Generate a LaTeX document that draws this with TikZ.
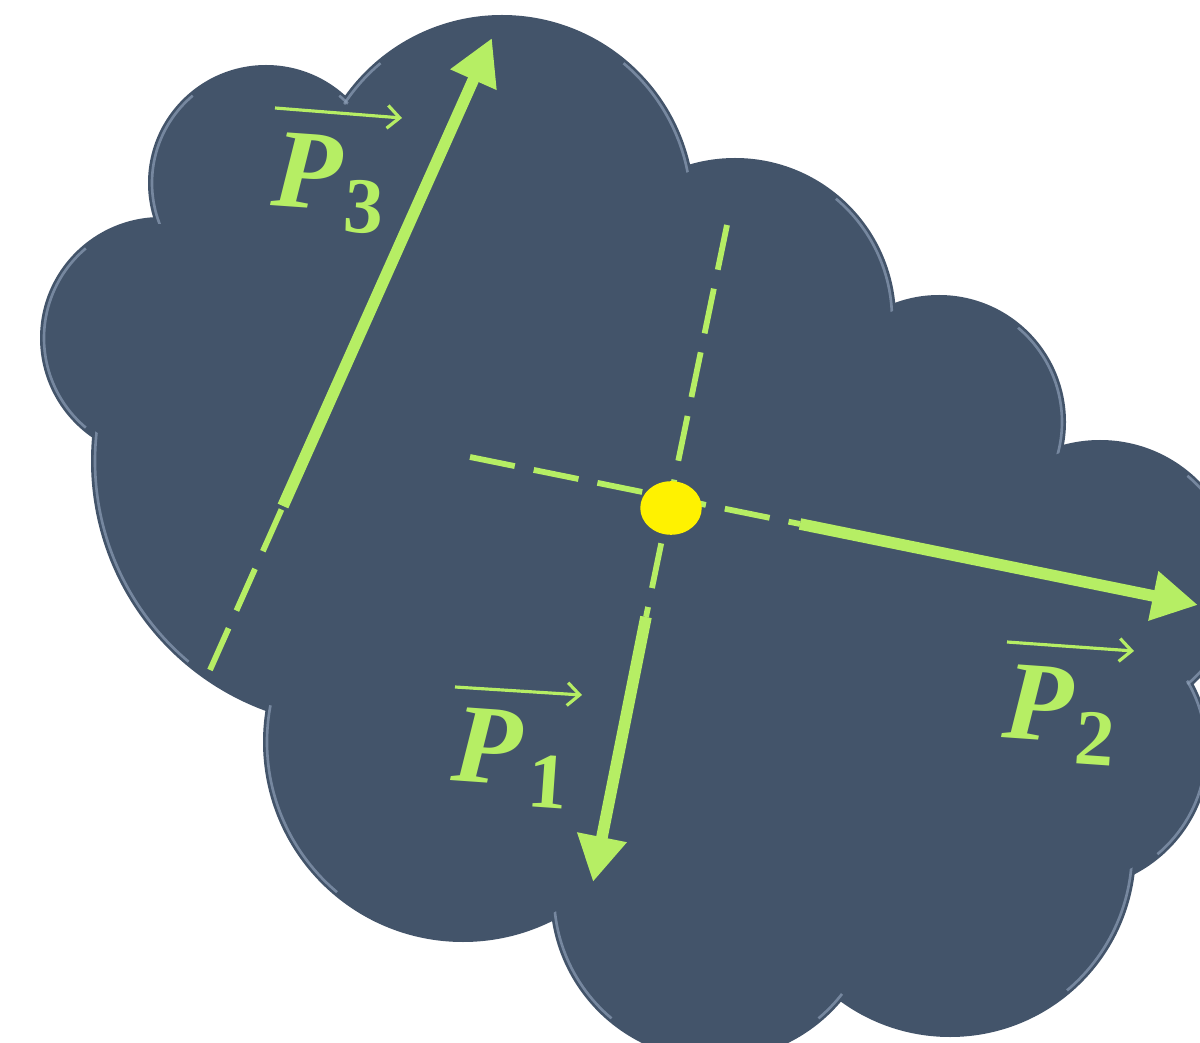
\documentclass[tikz,border=0pt]{standalone}
\usepackage{fontspec}
\setmainfont{Liberation Serif}
\usepackage{tikz}
\usetikzlibrary{arrows.meta,shapes.geometric}

\definecolor{slate}{RGB}{67,84,106}
\definecolor{slaterim}{RGB}{140,158,182}
\definecolor{lime}{RGB}{182,238,100}

\newcommand\subdigit[1]{\raisebox{-12pt}{\fontsize{45}{48}\selectfont\upshape #1}}
\def\bumplist{266/183/118, 161/338/121, 357/461/266, 502/208/193, 735/319/161,
  939/422/127, 1100/580/140, 1070/750/140, 950/851/186, 715/895/165, 463/742/200}

\begin{document}
\begin{tikzpicture}[
  x=0.02cm, y=-0.02cm,
  cloud/.style={fill=slate},
  rim/.style={draw=slaterim, line width=1.5pt, opacity=0.7},
  dashline/.style={lime, line width=3.3pt, dash pattern=on 26pt off 11pt},
  vecline/.style={lime, line width=6.6pt, -{Triangle[length=26pt,width=27pt]}},
  overarr/.style={lime, line width=1.8pt, -{Straight Barb[length=7pt,width=13pt]}},
  lbl/.style={text=lime, font=\fontsize{64}{70}\selectfont\bfseries\itshape,
    inner sep=0pt, anchor=base west, rotate=-4},
  dot/.style={ellipse, fill=yellow, inner sep=0pt, minimum width=35pt, minimum height=30.5pt}
]
\useasboundingbox (0,0) rectangle (1200,1043);
\fill[white] (0,0) rectangle (1200,1043);
\clip (0,0) rectangle (1200,1043);

\foreach \cx/\cy/\r in \bumplist {\fill[cloud] (\cx,\cy) circle[radius=\r];}
\foreach \cx/\cy/\r in \bumplist {
  \draw[rim] (\cx,\cy) ++(-50:\r-4) arc[start angle=-50, end angle=50, radius=\r-4];
  \draw[rim] (\cx,\cy) ++(130:\r-4) arc[start angle=130, end angle=230, radius=\r-4];
}
\foreach \cx/\cy/\r in \bumplist {\fill[cloud] (\cx,\cy) circle[radius=\r-7];}
\fill[cloud] (266,183) -- (502,208) -- (735,319) -- (939,422) -- (1100,580) -- (1070,750)
  -- (950,851) -- (715,895) -- (463,742) -- (357,461) -- (161,338) -- cycle;

\coordinate (p1s) at (727,225);
\coordinate (p1m) at (646,617);
\coordinate (p1e) at (593,882);
\coordinate (p2s) at (470,457);
\coordinate (p2m) at (800,524);
\coordinate (p2e) at (1198,605);
\coordinate (p3s) at (210,670);
\coordinate (p3m) at (283,506);
\coordinate (p3e) at (492,38);

\draw[dashline] (p1s) -- (p1m);
\draw[dashline] (p2s) -- (p2m);
\draw[dashline] (p3s) -- (p3m);
\node[dot] (o) at (671,508) {};
\draw[vecline] (p1m) -- (p1e);
\draw[vecline] (p2m) -- (p2e);
\draw[vecline] (p3m) -- (p3e);

\node[lbl] (p1) at (450,780) {P\hspace{5pt}\subdigit{1}};
\node[lbl] (p2) at (1001,737) {P\hspace{3pt}\subdigit{2}};
\node[lbl] (p3) at (270,205) {P\hspace{3pt}\subdigit{3}};
\coordinate (v1a) at (455,687);
\coordinate (v1b) at (582,695);
\coordinate (v2a) at (1007,642);
\coordinate (v2b) at (1134,651);
\coordinate (v3a) at (275,108);
\coordinate (v3b) at (402,118);
\draw[overarr] (v1a) -- (v1b);
\draw[overarr] (v2a) -- (v2b);
\draw[overarr] (v3a) -- (v3b);
\end{tikzpicture}
\end{document}
